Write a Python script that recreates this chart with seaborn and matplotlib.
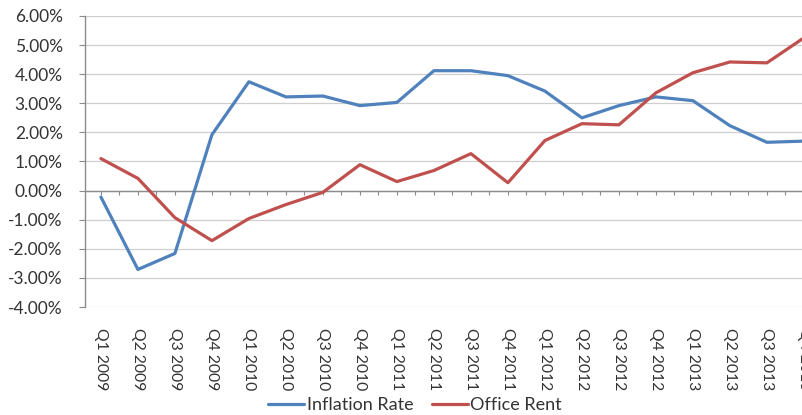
import matplotlib
matplotlib.use("Agg")
import matplotlib.pyplot as plt
import seaborn as sns
import pandas as pd
from matplotlib.ticker import FuncFormatter

quarters = ["Q1 2009", "Q2 2009", "Q3 2009", "Q4 2009",
            "Q1 2010", "Q2 2010", "Q3 2010", "Q4 2010",
            "Q1 2011", "Q2 2011", "Q3 2011", "Q4 2011",
            "Q1 2012", "Q2 2012", "Q3 2012", "Q4 2012",
            "Q1 2013", "Q2 2013", "Q3 2013", "Q4 2013"]
inflation_rate = [-0.22, -2.71, -2.16, 1.92, 3.74, 3.22, 3.25, 2.92,
                  3.03, 4.12, 4.12, 3.95, 3.42, 2.50, 2.92, 3.22,
                  3.09, 2.23, 1.66, 1.70]
office_rent = [1.10, 0.42, -0.93, -1.72, -0.96, -0.48, -0.06, 0.89,
               0.31, 0.69, 1.27, 0.27, 1.72, 2.30, 2.26, 3.36,
               4.05, 4.42, 4.39, 5.25]
series_names = ["Inflation Rate", "Office Rent"]
colors = ["#4F81BD", "#C0504D"]

df = pd.concat([
    pd.DataFrame({"Quarter": quarters, "Value": inflation_rate, "Series": series_names[0]}),
    pd.DataFrame({"Quarter": quarters, "Value": office_rent, "Series": series_names[1]}),
])

sns.set_style("white")
plt.rcParams["font.family"] = ["Lato", "DejaVu Sans"]

W, H = 803, 415
x_lo, x_hi = -0.43, 19.5
px_per_cat = 37.0
fig = plt.figure(figsize=(W / 100, H / 100), dpi=100)
ax = fig.add_axes([85 / W, 1 - 307 / H, px_per_cat * (x_hi - x_lo) / W, 291 / H])

sns.lineplot(data=df, x="Quarter", y="Value", hue="Series",
             palette=dict(zip(series_names, colors)), sort=False,
             linewidth=2.3, ax=ax, legend=False)

ax.set_xlim(x_lo, x_hi)
ax.set_ylim(-4, 6)
ax.set_yticks(range(-4, 7))
ax.yaxis.set_major_formatter(FuncFormatter(lambda v, p: f"{v:.2f}%"))
ax.grid(axis="y", color="#CFCFCF", linewidth=0.9)
ax.set_axisbelow(True)

for s in ["top", "right", "bottom"]:
    ax.spines[s].set_visible(False)
ax.spines["left"].set_color("#8C8C8C")
ax.spines["left"].set_linewidth(1.0)

# horizontal axis crossing at zero, with small category tick marks
ax.axhline(0, color="#8C8C8C", linewidth=1.0, zorder=1)
tick_pos = [i * 0.5 - 0.5 for i in range(1, 2 * len(quarters) + 1)]
ax.vlines(tick_pos, -0.15, 0.0, color="#8C8C8C", linewidth=0.8, zorder=1)

ax.tick_params(axis="y", length=4, color="#8C8C8C", labelsize=12.5,
               labelcolor="#333333", pad=12, left=True)
ax.tick_params(axis="x", length=0, labelsize=11.3, labelcolor="#333333", pad=15)
ax.set_xticks(range(len(quarters)))
ax.set_xticklabels(quarters, rotation=-90, va="top", ha="center")
ax.set_xlabel("")
ax.set_ylabel("")

handles = [plt.Line2D([], [], color=c, linewidth=2.3) for c in colors]
fig.legend(handles, series_names, loc="center", bbox_to_anchor=(415 / W, 10 / H),
           ncol=2, frameon=False, fontsize=13, handlelength=2.0,
           handletextpad=0.15, columnspacing=1.0, labelcolor="#333333")

fig.savefig("out.png", dpi=100)
